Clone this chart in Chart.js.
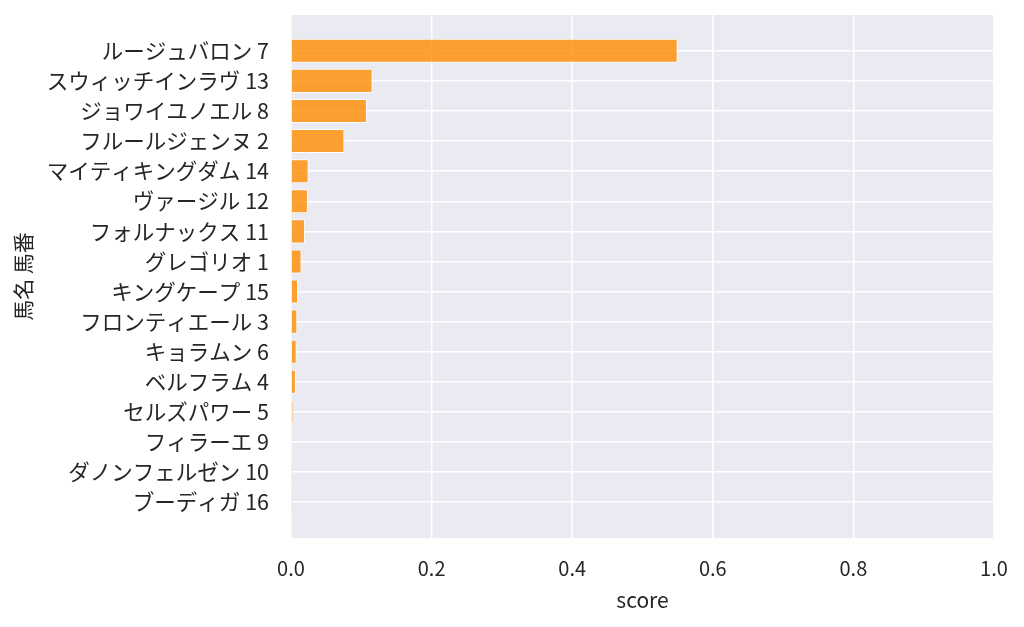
<!DOCTYPE html>
<html>
<head>
<meta charset="utf-8">
<script src="https://cdn.jsdelivr.net/npm/chart.js@4/dist/chart.umd.min.js"></script>
<style>
  html, body { margin: 0; padding: 0; background: #ffffff; }
  #wrap { width: 1024px; height: 627px; }
</style>
</head>
<body>
<div id="wrap"><canvas id="chart"></canvas></div>
<script>
// horse names and numbers, top to bottom
const horseNames = [
  "ルージュバロン", "スウィッチインラヴ", "ジョワイユノエル", "フルールジェンヌ",
  "マイティキングダム", "ヴァージル", "フォルナックス", "グレゴリオ",
  "キングケープ", "フロンティエール", "キョラムン", "ベルフラム",
  "セルズパワー", "フィラーエ", "ダノンフェルゼン", "ブーディガ"
];
const horseNumbers = [7, 13, 8, 2, 14, 12, 11, 1, 15, 3, 6, 4, 5, 9, 10, 16];
const scores = [
  0.550, 0.116, 0.108, 0.076,
  0.025, 0.024, 0.020, 0.015,
  0.010, 0.009, 0.008, 0.007,
  0.003, 0.0008, 0.0006, 0.0004
];
const xTicks = [0, 0.2, 0.4, 0.6, 0.8, 1.0];

const labels = horseNames.map((n, i) => n + " " + horseNumbers[i]);
const points = scores.map((v, i) => ({ x: v, y: i }));

const textColor = "#262626";
const font = "'Noto Sans CJK JP', 'Noto Sans', sans-serif";

// seaborn-like grey plot background
const plotBg = {
  id: "plotBg",
  beforeDraw(chart) {
    const a = chart.chartArea;
    const ctx = chart.ctx;
    ctx.save();
    ctx.fillStyle = "#eaeaf2";
    ctx.fillRect(a.left, a.top, a.right - a.left, a.bottom - a.top);
    ctx.restore();
  }
};

new Chart(document.getElementById("chart"), {
  type: "bar",
  data: {
    datasets: [{
      data: points,
      backgroundColor: "rgba(255,140,0,0.8)",
      borderColor: "rgba(255,255,255,0.9)",
      borderWidth: 1,
      barPercentage: 0.8,
      categoryPercentage: 1.0
    }]
  },
  plugins: [plotBg],
  options: {
    indexAxis: "y",
    responsive: true,
    maintainAspectRatio: false,
    animation: false,
    layout: { padding: { top: 15, right: 30, bottom: 0, left: 0 } },
    plugins: {
      legend: { display: false },
      tooltip: { enabled: false }
    },
    scales: {
      x: {
        type: "linear",
        position: "bottom",
        min: 0,
        max: 1,
        afterBuildTicks(scale) {
          scale.ticks = xTicks.map(v => ({ value: v }));
        },
        afterFit(scale) {
          scale.height = 89;
          scale.paddingLeft = 0;
          scale.paddingRight = 0;
        },
        ticks: {
          color: textColor,
          font: { family: font, size: 20 },
          padding: 18,
          callback: v => Number(v).toFixed(1)
        },
        grid: { color: "#ffffff", lineWidth: 1.5, drawTicks: false },
        border: { display: false },
        title: {
          display: true,
          text: "score",
          color: textColor,
          font: { family: font, size: 21 },
          padding: { top: 0, bottom: 14 }
        }
      },
      y: {
        type: "linear",
        reverse: true,
        offset: false,
        min: -1.19,
        max: 16.19,
        afterBuildTicks(scale) {
          scale.ticks = labels.map((l, i) => ({ value: i }));
        },
        afterFit(scale) {
          scale.width = 291;
          scale.paddingTop = 0;
          scale.paddingBottom = 0;
        },
        ticks: {
          color: textColor,
          font: { family: font, size: 21.5 },
          padding: 22,
          callback: v => labels[v]
        },
        grid: { color: "#ffffff", lineWidth: 1.5, drawTicks: false, offset: false },
        border: { display: false },
        title: {
          display: true,
          text: "馬名 馬番",
          color: textColor,
          font: { family: font, size: 21 },
          padding: { top: 10, bottom: 0 }
        }
      }
    }
  }
});
</script>
</body>
</html>
